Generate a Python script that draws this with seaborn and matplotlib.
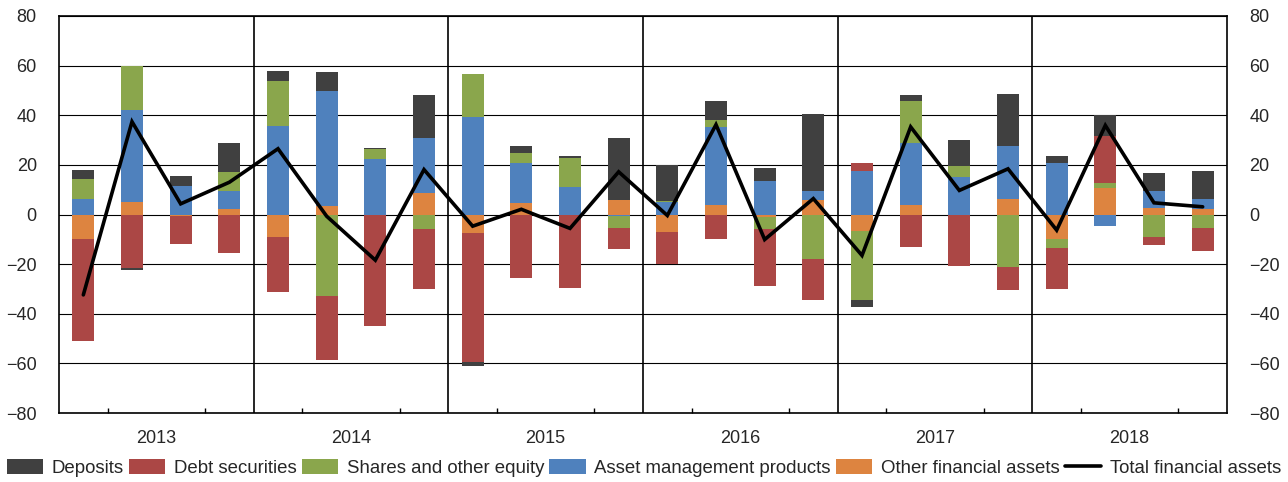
import numpy as np
import pandas as pd
import matplotlib
matplotlib.use("Agg")
import matplotlib.pyplot as plt
import seaborn as sns
from matplotlib.patches import Patch
from matplotlib.lines import Line2D

years = ["2013", "2014", "2015", "2016", "2017", "2018"]
quarters = [f"{y} Q{q}" for y in years for q in range(1, 5)]

deposits = [3.6, -0.7, 4.4, 11.7, 4.0, 7.6, 0.3, 17.3, -1.5, 2.8, 0.8, 25.0,
            14.2, 7.6, 5.2, 31.0, -2.7, 2.4, 10.5, 20.9, 2.8, 8.3, 7.2, 11.3]
debt = [-40.9, -21.7, -10.9, -15.7, -22.0, -25.8, -44.5, -24.2, -52.0, -25.7, -29.2, -8.3,
        -12.9, -9.7, -23.0, -16.4, 3.2, -13.1, -20.5, -9.2, -16.5, 19.2, -3.2, -9.3]
shares = [8.1, 17.7, 0.0, 7.9, 18.1, -32.8, 3.8, -6.0, 17.7, 4.3, 12.0, -4.8,
          0.4, 2.8, -5.1, -18.1, -27.9, 17.1, 4.4, -21.3, -4.0, 2.1, -9.2, -5.6]
asset = [6.4, 37.0, 11.3, 7.0, 35.8, 46.3, 22.5, 22.2, 39.1, 16.0, 10.9, -0.8,
         5.2, 31.4, 13.7, 3.6, 17.7, 24.9, 15.3, 21.6, 20.9, -4.8, 7.1, 4.3]
other = [-10.0, 5.2, -0.8, 2.4, -9.2, 3.6, -0.4, 8.8, -7.5, 4.6, -0.3, 6.0,
         -7.2, 4.0, -0.9, 6.0, -6.7, 3.8, -0.3, 6.2, -9.7, 10.5, 2.5, 2.1]
total = [-32.4, 37.4, 4.3, 13.0, 26.5, -0.7, -18.4, 18.1, -4.7, 2.1, -5.6, 17.2,
         -0.4, 36.2, -10.1, 6.4, -16.5, 35.3, 9.7, 18.4, -6.3, 35.9, 4.7, 3.1]

sns.set_theme(style="white")
plt.rcParams['font.family'] = ['Liberation Sans', 'DejaVu Sans']
plt.rcParams['axes.unicode_minus'] = True

fig = plt.figure(figsize=(12.88, 4.82), dpi=100)
ax = fig.add_axes([59 / 1288, 1 - 413 / 482, (1227 - 59) / 1288, (413 - 16) / 482])

x = np.arange(len(quarters))
colors = {
    "Deposits": "#404040",
    "Debt securities": "#AB4745",
    "Shares and other equity": "#8AA64C",
    "Asset management products": "#4F81BD",
    "Other financial assets": "#DD8440",
}
stack = [("Other financial assets", other), ("Asset management products", asset),
         ("Shares and other equity", shares), ("Debt securities", debt),
         ("Deposits", deposits)]
pos_b = np.zeros(len(x))
neg_b = np.zeros(len(x))
for name, vals in stack:
    v = np.array(vals, dtype=float)
    b = np.where(v >= 0, pos_b, neg_b)
    ax.bar(x, v, bottom=b, width=0.45, color=colors[name], linewidth=0, zorder=3)
    pos_b += np.where(v > 0, v, 0)
    neg_b += np.where(v < 0, v, 0)

df = pd.DataFrame({"x": x, "total": total})
sns.lineplot(data=df, x="x", y="total", color="black", lw=2.6, ax=ax, zorder=4,
             solid_joinstyle="miter")

ax.set_xlim(-0.5, len(x) - 0.5)
ax.set_ylim(-80, 80)
ax.set_yticks(range(-80, 81, 20))
ax.yaxis.grid(True, color="black", lw=0.8, zorder=1)
ax.xaxis.grid(False)
for k in range(1, len(years)):
    ax.axvline(4 * k - 0.5, color="black", lw=1.2, zorder=2)

centers = [4 * k + 1.5 for k in range(len(years))]
ax.set_xticks(centers)
ax.set_xticklabels(years)
minor = [4 * k + 0.5 for k in range(len(years))] + [4 * k + 2.5 for k in range(len(years))]
ax.set_xticks(sorted(minor), minor=True)
ax.tick_params(axis="x", which="major", direction="in", length=7, width=1,
               color="black", labelsize=13, pad=12)
ax.tick_params(axis="x", which="minor", direction="in", length=3.5, width=1,
               color="black", bottom=True)
ax.tick_params(axis="y", left=False, right=False, labelleft=True, labelright=True,
               labelsize=13, pad=10)
ax.set_xlabel("")
ax.set_ylabel("")
for s in ax.spines.values():
    s.set_color("black")
    s.set_linewidth(1.2)

order = ["Deposits", "Debt securities", "Shares and other equity",
         "Asset management products", "Other financial assets"]
handles = [Patch(facecolor=colors[n], edgecolor="none", label=n) for n in order]
handles.append(Line2D([0], [0], color="black", lw=2.6, label="Total financial assets"))
fig.legend(handles=handles, loc="center", bbox_to_anchor=(0.5, 1 - 468 / 482), ncol=6,
           frameon=False, fontsize=13.4, handlelength=1.94, handleheight=0.9,
           handletextpad=0.48, columnspacing=0.27, borderaxespad=0.0, borderpad=0.0)

fig.savefig("out.png", dpi=100)
